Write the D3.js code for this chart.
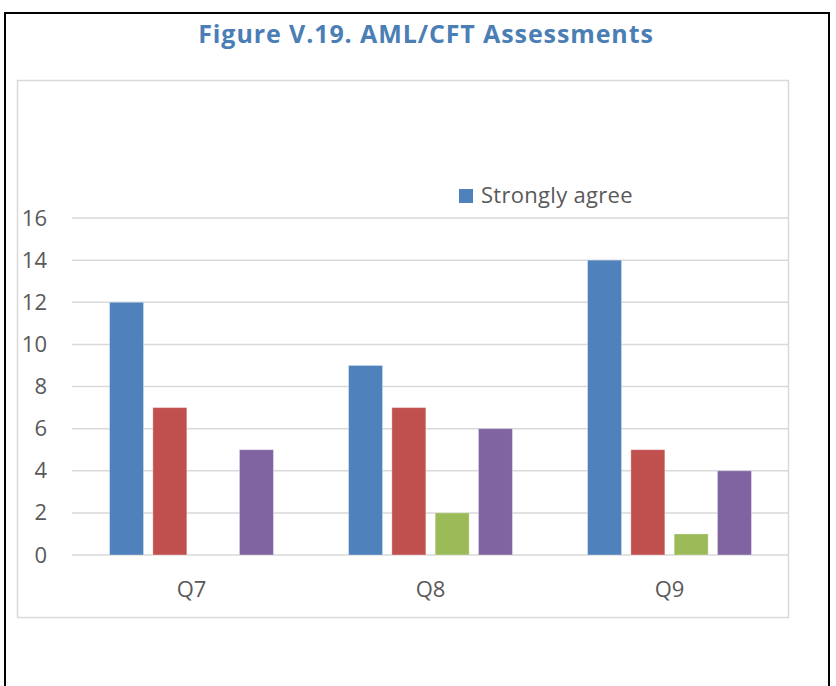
<!DOCTYPE html>
<html>
<head>
<meta charset="utf-8">
<script src="https://cdn.jsdelivr.net/npm/d3@7/dist/d3.min.js"></script>
<style>
  body { margin: 0; background: #fff; }
  text { font-family: "Open Sans", "Noto Sans", sans-serif; }
</style>
</head>
<body>
<div class="chart"></div>
<script>
// Chart data
var categories = ["Q7", "Q8", "Q9"];
var seriesNames = ["Strongly agree", "Agree", "Disagree", "Strongly disagree"];
var seriesColors = ["#4f81bd", "#c0504d", "#9bbb59", "#8064a2"];
var stronglyAgree = [12, 9, 14];
var agree = [7, 7, 5];
var disagree = [0, 2, 1];
var stronglyDisagree = [5, 6, 4];
var yTicks = [0, 2, 4, 6, 8, 10, 12, 14, 16];

var seriesValues = [stronglyAgree, agree, disagree, stronglyDisagree];

// rows for the grouped bars
var rows = categories.map(function(c, i) {
  return {
    cat: c,
    vals: seriesNames.map(function(s, j) {
      return { name: s, value: seriesValues[j][i], color: seriesColors[j] };
    })
  };
});

var svgWidth = 836;
var svgHeight = 686;

// plot area
var plot = { left: 72, right: 789, top: 218, bottom: 555 };

var svg = d3.select(".chart")
  .append("svg")
  .attr("width", svgWidth)
  .attr("height", svgHeight);

// outer black frame
svg.append("rect")
  .attr("x", 5)
  .attr("y", 13)
  .attr("width", 824)
  .attr("height", 700)
  .attr("fill", "none")
  .attr("stroke", "#000")
  .attr("stroke-width", 2);

// title
svg.append("text")
  .attr("x", 426)
  .attr("y", 43)
  .attr("text-anchor", "middle")
  .attr("fill", "#4a7eb5")
  .style("font-size", "25px")
  .style("font-weight", "bold")
  .style("letter-spacing", "0.9px")
  .text("Figure V.19. AML/CFT Assessments");

// chart area border
svg.append("rect")
  .attr("x", 17.5)
  .attr("y", 80.5)
  .attr("width", 771)
  .attr("height", 537)
  .attr("fill", "none")
  .attr("stroke", "#d9d9d9")
  .attr("stroke-width", 1.5);

// scales
var x0 = d3.scaleBand()
  .domain(categories)
  .range([plot.left, plot.right])
  .paddingInner(0)
  .paddingOuter(0);

var x1 = d3.scaleBand()
  .domain(seriesNames)
  .range([0, x0.bandwidth()])
  .paddingInner(0.215)
  .paddingOuter(0.867);

var y = d3.scaleLinear()
  .domain([0, 16])
  .range([plot.bottom, plot.top]);

// gridlines
svg.append("g")
  .selectAll("line")
  .data(yTicks)
  .enter()
  .append("line")
  .attr("x1", plot.left)
  .attr("x2", plot.right)
  .attr("y1", d => y(d))
  .attr("y2", d => y(d))
  .attr("stroke", "#d9d9d9")
  .attr("stroke-width", 1.5);

// y axis labels
var leftAxis = d3.axisLeft(y).tickValues(yTicks).tickSize(0).tickPadding(0);
var yAxis = svg.append("g")
  .attr("transform", `translate(47, 0)`)
  .call(leftAxis);
yAxis.select(".domain").remove();
yAxis.selectAll("text")
  .attr("fill", "#595959")
  .style("font-size", "22px")
  .style("font-family", "'Open Sans', sans-serif");

// bars
var groups = svg.append("g")
  .selectAll("g")
  .data(rows)
  .enter()
  .append("g")
  .attr("transform", d => `translate(${x0(d.cat)}, 0)`);

groups.selectAll("rect")
  .data(d => d.vals.filter(v => v.value > 0))
  .enter()
  .append("rect")
  .attr("x", d => x1(d.name))
  .attr("y", d => y(d.value))
  .attr("width", x1.bandwidth())
  .attr("height", d => y(0) - y(d.value))
  .attr("fill", d => d.color)
  .attr("stroke", "#fff")
  .attr("stroke-opacity", 0.35)
  .attr("stroke-width", 1);

// x axis labels
var bottomAxis = d3.axisBottom(x0).tickSize(0).tickPadding(0);
var xAxis = svg.append("g")
  .attr("transform", `translate(0, 581)`)
  .call(bottomAxis);
xAxis.select(".domain").remove();
xAxis.selectAll("text")
  .attr("fill", "#595959")
  .style("font-size", "22px")
  .style("font-family", "'Open Sans', sans-serif");

// legend (only the first entry is visible in the figure)
var legend = svg.append("g")
  .selectAll("g")
  .data(seriesNames.slice(0, 1))
  .enter()
  .append("g")
  .attr("transform", (d, i) => `translate(459, ${189 + i * 26})`);

legend.append("rect")
  .attr("width", 14)
  .attr("height", 14)
  .attr("fill", (d, i) => seriesColors[i]);

legend.append("text")
  .attr("x", 22)
  .attr("y", 14)
  .attr("fill", "#595959")
  .style("font-size", "22px")
  .style("letter-spacing", "0.3px")
  .text(d => d);
</script>
</body>
</html>
